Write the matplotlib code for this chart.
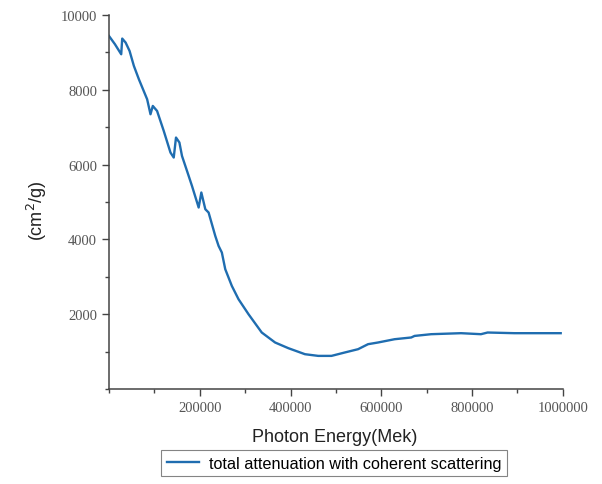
import matplotlib
matplotlib.use('Agg')
import matplotlib.pyplot as plt
import matplotlib.ticker as mticker

# values
energy = [0, 13200, 27000, 29200, 36700, 45400, 54900, 65900, 84100, 91500,
          96600, 106000, 120700, 135500, 142700, 147700, 155200, 160900, 175600,
          182900, 197600, 203500, 212300, 219500, 234200, 241500, 248700, 256200,
          270700, 285400, 307400, 336600, 366000, 395200, 431800, 461000, 490200,
          519600, 548800, 570800, 592800, 629400, 665900, 673300, 709800, 775600,
          819500, 834200, 892900, 995200]
attenuation = [9440, 9218, 8950, 9370, 9263, 9039, 8638, 8282, 7747, 7346,
               7568, 7434, 6900, 6322, 6188, 6723, 6590, 6231, 5697,
               5429, 4852, 5253, 4806, 4718, 4092, 3825, 3648, 3202,
               2755, 2400, 1999, 1509, 1242, 1090, 929, 884, 884,
               975, 1063, 1197, 1242, 1330, 1376, 1418, 1464, 1491,
               1464, 1509, 1491, 1491]
series_label = 'total attenuation with coherent scattering'

x_ticks = [200000, 400000, 600000, 800000, 1000000]
y_ticks = [2000, 4000, 6000, 8000, 10000]

fig = plt.figure(figsize=(6.02, 4.85), dpi=100)
ax = fig.add_axes([0.181, 0.196, 0.754, 0.771])

ax.plot(energy, attenuation, color='#1f6db0', lw=1.7, label=series_label)

ax.set_xlim(0, 1000000)
ax.set_ylim(0, 10000)
ax.set_xticks(x_ticks)
ax.set_yticks(y_ticks)
ax.xaxis.set_major_formatter(mticker.FormatStrFormatter('%d'))
ax.yaxis.set_major_formatter(mticker.FormatStrFormatter('%d'))
ax.xaxis.set_minor_locator(mticker.MultipleLocator(100000))
ax.yaxis.set_minor_locator(mticker.MultipleLocator(1000))

for side in ['top', 'right']:
    ax.spines[side].set_visible(False)
for side in ['left', 'bottom']:
    ax.spines[side].set_color('#444444')
    ax.spines[side].set_linewidth(1.1)

ax.tick_params(which='major', length=5, width=1, color='#444444',
               labelsize=10.5, labelcolor='#555555')
ax.tick_params(which='minor', length=3, width=1, color='#444444')
for lbl in ax.get_xticklabels() + ax.get_yticklabels():
    lbl.set_family('Liberation Serif')

ax.set_xlabel('Photon Energy(Mek)', fontsize=13, family='Liberation Sans',
              color='#222222')
ax.set_ylabel('(cm$^2$/g)', fontsize=13, family='Liberation Sans',
              color='#222222')
ax.xaxis.set_label_coords(0.498, -0.105)
ax.yaxis.set_label_coords(-0.132, 0.48)

leg = ax.legend(loc='upper left', bbox_to_anchor=(161 / 602, 1 - 451 / 485),
                bbox_transform=fig.transFigure,
                frameon=True, fancybox=False, borderpad=0.35,
                handlelength=2.0, handletextpad=0.6, borderaxespad=0,
                prop={'family': 'Liberation Sans', 'size': 11.7})
leg.get_frame().set_edgecolor('#666666')
leg.get_frame().set_linewidth(0.8)

plt.savefig('out.png', dpi=100)
plt.close()
